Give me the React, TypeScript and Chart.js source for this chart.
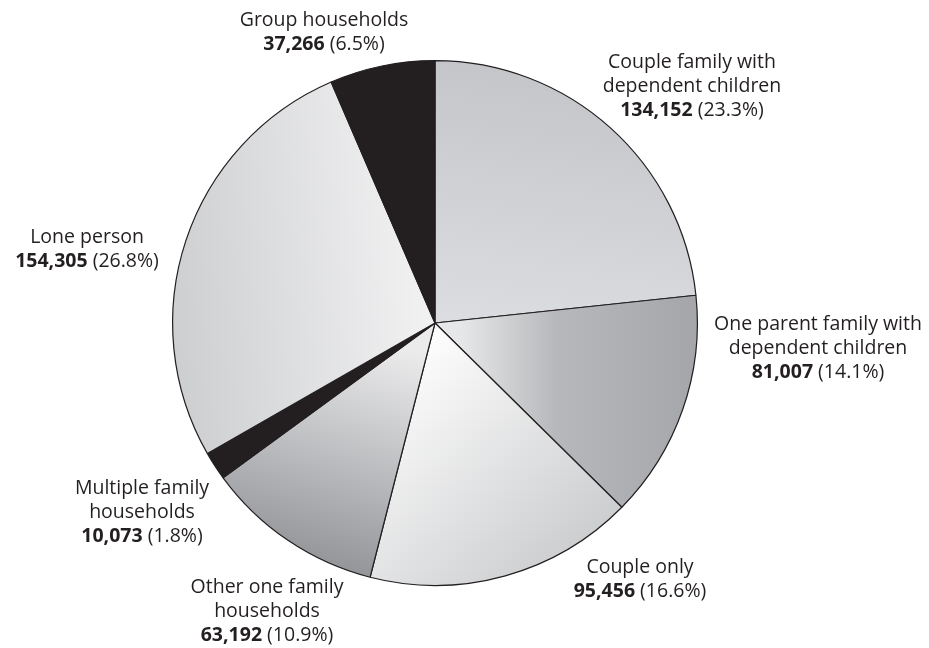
import React, { useEffect, useRef } from 'react';
import { Chart, registerables } from 'chart.js';

Chart.register(...registerables);

// ---- data ----
const categories = [
  'Couple family with dependent children',
  'One parent family with dependent children',
  'Couple only',
  'Other one family households',
  'Multiple family households',
  'Lone person',
  'Group households',
];
const households = [134152, 81007, 95456, 63192, 10073, 154305, 37266];
const percentLabels = ['23.3%', '14.1%', '16.6%', '10.9%', '1.8%', '26.8%', '6.5%'];
const labelLines = [
  ['Couple family with', 'dependent children'],
  ['One parent family with', 'dependent children'],
  ['Couple only'],
  ['Other one family', 'households'],
  ['Multiple family', 'households'],
  ['Lone person'],
  ['Group households'],
];

// ---- layout / style (not data) ----
const LABEL_POS: [number, number][] = [
  [692, 62],
  [818, 324],
  [640, 567],
  [267, 587],
  [142, 488],
  [87, 237],
  [324, 20],
];
const FONT = '"Open Sans", "Noto Sans", sans-serif';
const FS = 19.5;
const LH = 24;
const INK = '#231f20';

const SOLID = ['#cfd0d2', '#b5b6b9', '#e2e3e4', '#b9babd', INK, '#e2e3e5', INK];
type Grad = { from: [number, number]; to: [number, number]; stops: [number, string][] } | null;
const GRADIENTS: Grad[] = [
  { from: [0.25, -1.0], to: [0.1, 0.0], stops: [[0, '#c4c5c8'], [1, '#dcdde0']] },
  { from: [0.1, 0], to: [1.0, 0], stops: [[0, '#e6e7e8'], [0.4, '#b7b8bb'], [1, '#a4a6a9']] },
  { from: [0.0, 0.05], to: [0.65, 0.75], stops: [[0, '#fcfcfc'], [1, '#cdced0']] },
  { from: [-0.05, 0.12], to: [-0.3, 1.0], stops: [[0, '#ebebec'], [1, '#8f9195']] },
  null,
  { from: [-1.0, 0.1], to: [0.0, 0.0], stops: [[0, '#cdced0'], [1, '#f2f2f3']] },
  null,
];

function sliceFill(chart: any, i: number) {
  const area = chart.chartArea;
  const g = GRADIENTS[i];
  if (!area || !g) return SOLID[i];
  const cx = (area.left + area.right) / 2;
  const cy = (area.top + area.bottom) / 2;
  const r = Math.min(area.right - area.left, area.bottom - area.top) / 2;
  const grad = chart.ctx.createLinearGradient(
    cx + g.from[0] * r, cy + g.from[1] * r, cx + g.to[0] * r, cy + g.to[1] * r
  );
  g.stops.forEach(([o, c]) => grad.addColorStop(o, c));
  return grad;
}

const labelPlugin = {
  id: 'sliceLabels',
  afterDraw(chart: any) {
    const ctx = chart.ctx as CanvasRenderingContext2D;
    ctx.save();
    ctx.fillStyle = INK;
    ctx.textBaseline = 'middle';
    ctx.textAlign = 'left';
    categories.forEach((_, i) => {
      const [x, y0] = LABEL_POS[i];
      const lines = labelLines[i];
      ctx.font = `400 ${FS}px ${FONT}`;
      lines.forEach((ln, j) => {
        const w = ctx.measureText(ln).width;
        ctx.fillText(ln, x - w / 2, y0 + j * LH);
      });
      const yv = y0 + lines.length * LH;
      const num = households[i].toLocaleString('en-US');
      const pct = ` (${percentLabels[i]})`;
      ctx.font = `700 ${FS}px ${FONT}`;
      const wn = ctx.measureText(num).width;
      ctx.font = `400 ${FS}px ${FONT}`;
      const wp = ctx.measureText(pct).width;
      const sx = x - (wn + wp) / 2;
      ctx.font = `700 ${FS}px ${FONT}`;
      ctx.fillText(num, sx, yv);
      ctx.font = `400 ${FS}px ${FONT}`;
      ctx.fillText(pct, sx + wn, yv);
    });
    ctx.restore();
  },
};

export default function App() {
  const ref = useRef<HTMLCanvasElement | null>(null);
  useEffect(() => {
    if (!ref.current) return;
    const chart = new Chart(ref.current, {
      type: 'pie',
      data: {
        labels: categories,
        datasets: [
          {
            data: households,
            backgroundColor: (c: any) => sliceFill(c.chart, c.dataIndex),
            borderColor: INK,
            borderWidth: 1.2,
            hoverOffset: 0,
          },
        ],
      },
      options: {
        responsive: false,
        animation: false,
        events: [],
        layout: { padding: { left: 172, top: 60, right: 231, bottom: 62 } },
        plugins: { legend: { display: false }, tooltip: { enabled: false } },
      },
      plugins: [labelPlugin],
    } as any);
    return () => chart.destroy();
  }, []);
  return (
    <div style={{ position: 'absolute', left: 0, top: 0, width: 929, height: 648, background: '#fff' }}>
      <canvas ref={ref} width={929} height={648} style={{ width: 929, height: 648, display: 'block' }} />
    </div>
  );
}
